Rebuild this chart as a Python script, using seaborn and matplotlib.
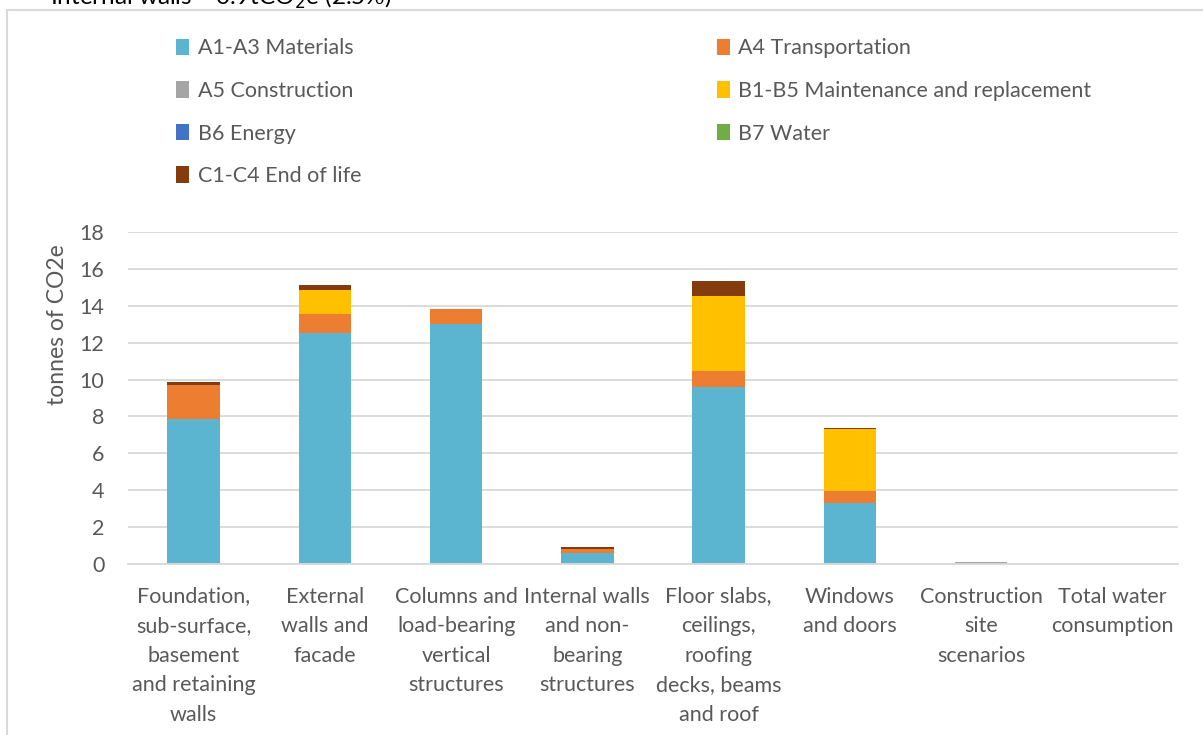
import numpy as np
import pandas as pd
import seaborn as sns
import matplotlib.pyplot as plt
from matplotlib.patches import Patch, Rectangle

# Categories (building parts) and stage contributions in tonnes CO2e
categories = [
    "Foundation,\nsub-surface,\nbasement\nand retaining\nwalls",
    "External\nwalls and\nfacade",
    "Columns and\nload-bearing\nvertical\nstructures",
    "Internal walls\nand non-\nbearing\nstructures",
    "Floor slabs,\nceilings,\nroofing\ndecks, beams\nand roof",
    "Windows\nand doors",
    "Construction\nsite\nscenarios",
    "Total water\nconsumption",
]
stages = ["A1-A3 Materials", "A4 Transportation", "A5 Construction",
          "B1-B5 Maintenance and replacement", "B6 Energy", "B7 Water",
          "C1-C4 End of life"]
colors = ["#5BB4D0", "#ED7D31", "#A5A5A5", "#FFC000", "#4472C4", "#70AD47", "#843C0C"]

a1_a3 = [7.86, 12.53, 12.99, 0.60, 9.59, 3.32, 0.0, 0.0]
a4 = [1.84, 1.01, 0.81, 0.23, 0.89, 0.66, 0.0, 0.0]
a5 = [0.0, 0.0, 0.0, 0.0, 0.0, 0.0, 0.1, 0.0]
b1_b5 = [0.0, 1.29, 0.0, 0.0, 4.06, 3.36, 0.0, 0.0]
b6 = [0.0, 0.0, 0.0, 0.0, 0.0, 0.0, 0.0, 0.0]
b7 = [0.0, 0.0, 0.0, 0.0, 0.0, 0.0, 0.0, 0.0]
c1_c4 = [0.15, 0.27, 0.0, 0.08, 0.81, 0.05, 0.0, 0.0]
series = [a1_a3, a4, a5, b1_b5, b6, b7, c1_c4]

sns.set_theme(style="white")
plt.rcParams["font.family"] = ["Lato", "DejaVu Sans"]
text_col = "#595959"
grid_col = "#D9D9D9"
fs = 15.5

fig = plt.figure(figsize=(12.03, 7.35), dpi=100)
ax = fig.add_axes([128 / 1203, 170.7 / 735, 1050 / 1203, 332.6 / 735])

bottom = np.zeros(len(categories))
for name, vals, col in zip(stages, series, colors):
    sns.barplot(x=categories, y=vals, bottom=bottom, color=col, width=0.4,
                saturation=1, errorbar=None, linewidth=0, ax=ax)
    bottom += np.array(vals)

ax.set_ylim(0, 18)
ax.set_yticks(range(0, 19, 2))
ax.set_xlim(-0.5, len(categories) - 0.5)
ax.yaxis.grid(True, color=grid_col, linewidth=1.3)
ax.set_axisbelow(True)
for s in ["top", "right", "left"]:
    ax.spines[s].set_visible(False)
ax.spines["bottom"].set_color(grid_col)
ax.spines["bottom"].set_linewidth(1.3)
ax.tick_params(axis="both", length=0, colors=text_col, labelsize=fs)
ax.tick_params(axis="x", pad=16)
ax.tick_params(axis="y", pad=17)
for lbl in ax.get_xticklabels():
    lbl.set_linespacing(1.6)
ax.set_ylabel("tonnes of CO2e", color=text_col, fontsize=16.5)
ax.yaxis.set_label_coords(-0.057, 0.72)

# legend ordered row-wise like the original
handles = [Patch(facecolor=c, edgecolor="none") for c in colors]
order = [0, 2, 4, 6, 1, 3, 5]
fig.legend([handles[i] for i in order], [stages[i] for i in order],
           ncol=2, loc="upper left", bbox_to_anchor=(157 / 1203, 1 - 19 / 735),
           frameon=False, fontsize=fs, labelcolor=text_col,
           handlelength=0.6, handleheight=0.8, handletextpad=0.4,
           columnspacing=16.5, labelspacing=1.05)

# chart border and clipped heading from the page above
fig.add_artist(Rectangle((7 / 1203, -0.1), 1.2, 1.1 - 10 / 735, transform=fig.transFigure,
                         fill=False, edgecolor=grid_col, linewidth=1.5))
fig.text(50 / 1203, 1 - 5 / 735, "Internal walls – 0.9tCO$_2$e (2.5%)", fontsize=17.5,
         color="black", va="baseline", ha="left")

fig.savefig("out.png", dpi=100)
